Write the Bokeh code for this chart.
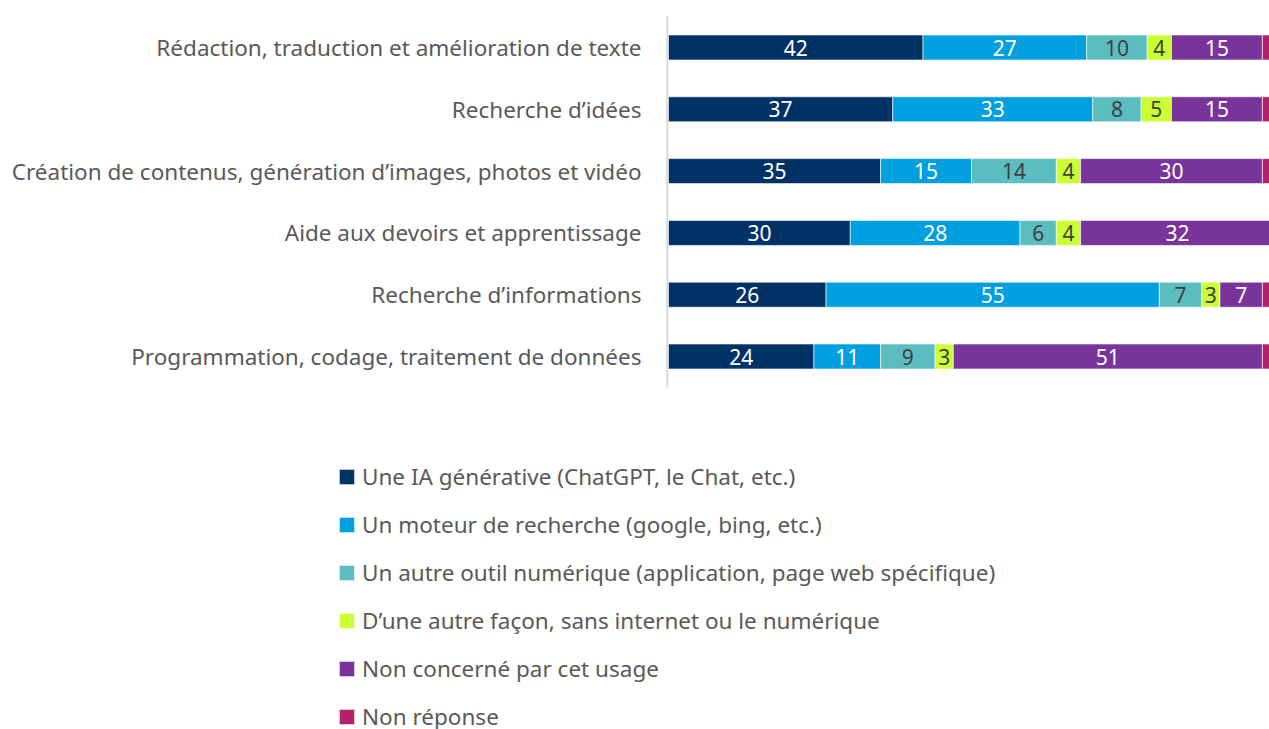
from bokeh.plotting import figure
from bokeh.models import ColumnDataSource, Range1d, Legend, LegendItem
from bokeh.core.properties import value
from bokeh.embed import file_html
from bokeh.resources import INLINE

categories = [
    "Rédaction, traduction et amélioration de texte",
    "Recherche d’idées",
    "Création de contenus, génération d’images, photos et vidéo",
    "Aide aux devoirs et apprentissage",
    "Recherche d’informations",
    "Programmation, codage, traitement de données",
]
series_names = [
    "Une IA générative (ChatGPT, le Chat, etc.)",
    "Un moteur de recherche (google, bing, etc.)",
    "Un autre outil numérique (application, page web spécifique)",
    "D’une autre façon, sans internet ou le numérique",
    "Non concerné par cet usage",
    "Non réponse",
]
ia = [42, 37, 35, 30, 26, 24]
moteur = [27, 33, 15, 28, 55, 11]
autre = [10, 8, 14, 6, 7, 9]
sans = [4, 5, 4, 4, 3, 3]
non_concerne = [15, 15, 30, 32, 7, 51]
non_reponse = [2, 2, 2, 0, 2, 1.5]

colors = ["#003265", "#009fe0", "#5bbdbf", "#ccff33", "#78349b", "#b0226a"]
label_colors = ["#ffffff", "#ffffff", "#404040", "#404040", "#ffffff", None]

FONT = "Noto Sans"
TXT = "#595959"
W, H = 1269, 729
AXIS_PX = 668          # screen x of the value axis
PX_PER_UNIT = 6.06     # horizontal scale
ROW_PX = 61.8          # row pitch
FIRST_ROW_PX = 47      # centre of first row from top

n = len(categories)
pos = [n - 1 - i for i in range(n)]

all_series = [ia, moteur, autre, sans, non_concerne, non_reponse]
keys = ["s%d" % i for i in range(6)]
data = {"pos": pos, "cat": categories, "zero": [0] * n}
for k, s in zip(keys, all_series):
    data[k] = s
source = ColumnDataSource(data)

top = (n - 1) + FIRST_ROW_PX / ROW_PX
p = figure(
    width=W, height=H,
    x_range=Range1d(-AXIS_PX / PX_PER_UNIT, (W - AXIS_PX) / PX_PER_UNIT),
    y_range=Range1d(top - H / ROW_PX, top),
    output_backend="svg", toolbar_location=None,
    min_border=0, min_border_left=0, min_border_right=0, min_border_top=0, min_border_bottom=0,
)
p.axis.visible = False
p.grid.visible = False
p.outline_line_color = None

renderers = p.hbar_stack(keys, y="pos", height=0.405, color=colors, source=source,
                         line_color="white", line_width=0.6)

# vertical axis line spanning the category band
p.segment(x0=-0.2, x1=-0.2, y0=-0.5, y1=n - 0.5, line_color="#d9d9d9", line_width=2)

# category labels
p.text(x="zero", y="pos", text="cat", source=source, x_offset=-27,
       text_align="right", text_baseline="middle", text_color=TXT,
       text_font=value(FONT), text_font_size="22.5px")

# value labels
lx, ly, lt, lc = [], [], [], []
for si, s in enumerate(all_series):
    if label_colors[si] is None:
        continue
    for ci, v in enumerate(s):
        start = sum(all_series[k][ci] for k in range(si))
        lx.append(start + v / 2)
        ly.append(pos[ci])
        lt.append(str(v))
        lc.append(label_colors[si])
lsrc = ColumnDataSource(dict(x=lx, y=ly, t=lt, c=lc))
p.text(x="x", y="y", text="t", source=lsrc, text_color="c", text_align="center",
       text_baseline="middle", text_font=value(FONT), text_font_size="21px")

legend = Legend(
    items=[LegendItem(label=nm, renderers=[r]) for nm, r in zip(series_names, renderers)],
    location=(337, -3),
    orientation="vertical",
    glyph_width=19, glyph_height=19,
    label_height=31, label_standoff=6, spacing=17,
    padding=0, margin=0,
    border_line_color=None, background_fill_alpha=0,
    label_text_font=FONT, label_text_font_size="22.5px", label_text_color=TXT,
)
p.add_layout(legend, "center")

open("out.html", "w").write(file_html(p, INLINE))
